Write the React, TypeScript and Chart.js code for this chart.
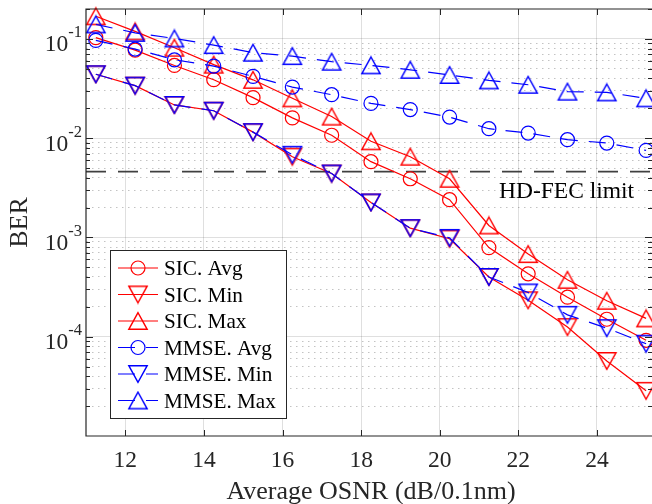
import React, { useEffect, useRef } from 'react';
import { Chart, registerables } from 'chart.js';

Chart.register(...registerables);

// ---- data ----
const osnr = [11.25, 12.25, 13.25, 14.25, 15.25, 16.25, 17.25, 18.25, 19.25, 20.25, 21.25, 22.25, 23.25, 24.25, 25.25];
const sicAvg = [0.103, 0.077, 0.054, 0.0388, 0.0256, 0.016, 0.0107, 0.0058, 0.0039, 0.0024, 0.00079, 0.00043, 0.00025, 0.00015, 0.000092];
const sicMin = [0.044, 0.0338, 0.0216, 0.0189, 0.0115, 0.0065, 0.0044, 0.00225, 0.00124, 0.00097, 0.0004, 0.000233, 0.000125, 0.000057, 0.0000285];
const sicMax = [0.169, 0.119, 0.0815, 0.055, 0.0387, 0.0252, 0.0165, 0.0093, 0.0065, 0.0039, 0.00132, 0.00068, 0.000374, 0.00023, 0.000153];
const mmseAvg = [0.0966, 0.079, 0.0616, 0.0532, 0.0419, 0.0327, 0.0274, 0.0224, 0.0194, 0.0163, 0.01245, 0.01125, 0.00966, 0.00893, 0.00753];
const mmseMin = [0.044, 0.0338, 0.0216, 0.0189, 0.0115, 0.0068, 0.0044, 0.00225, 0.00124, 0.00099, 0.0004, 0.000279, 0.000166, 0.000122, 0.000085];
const mmseMax = [0.14, 0.115, 0.101, 0.0866, 0.0726, 0.0671, 0.0589, 0.0541, 0.0488, 0.0433, 0.0382, 0.0345, 0.0294, 0.0289, 0.0252];

const seriesNames = ['SIC. Avg', 'SIC. Min', 'SIC. Max', 'MMSE. Avg', 'MMSE. Min', 'MMSE. Max'];
const seriesValues = [sicAvg, sicMin, sicMax, mmseAvg, mmseMin, mmseMax];
const seriesMarkers = ['circle', 'down', 'up', 'circle', 'down', 'up'];
const seriesColors = ['#ff0000', '#ff0000', '#ff0000', '#0000ff', '#0000ff', '#0000ff'];
const seriesDashed = [false, false, false, true, true, true];

const xTicks = [12, 14, 16, 18, 20, 22, 24];
const yTickExponents = [-1, -2, -3, -4];
const xRange = [11, 25.4];
const yRange = [1e-5, 0.2];
const hdFecLimit = 4.6e-3;
const hdFecLabel = 'HD-FEC limit';
const xTitle = 'Average OSNR (dB/0.1nm)';
const yTitle = 'BER';

const SERIF = '"Liberation Serif", "Times New Roman", serif';
const AXIS = '#262626';
const DASH = [17, 11];
const CIRCLE_R = 7;
const TRI_W = 18.4;
const TRI_H = 16.6;

// triangle marker image, centred on its bounding box (MATLAB style)
function makeTriangle(color: string, down: boolean): HTMLCanvasElement {
  const c = document.createElement('canvas');
  c.width = 22;
  c.height = 20;
  const g = c.getContext('2d') as CanvasRenderingContext2D;
  const cx = 11, cy = 10;
  const hw = TRI_W / 2, hh = TRI_H / 2;
  g.strokeStyle = color;
  g.lineWidth = 1.4;
  g.lineJoin = 'miter';
  g.beginPath();
  if (down) {
    g.moveTo(cx, cy + hh);
    g.lineTo(cx - hw, cy - hh);
    g.lineTo(cx + hw, cy - hh);
  } else {
    g.moveTo(cx, cy - hh);
    g.lineTo(cx - hw, cy + hh);
    g.lineTo(cx + hw, cy + hh);
  }
  g.closePath();
  g.stroke();
  return c;
}

const decorPlugin = {
  id: 'decor',
  afterDraw(chart: any) {
    const ctx: CanvasRenderingContext2D = chart.ctx;
    const { left, right, top, bottom } = chart.chartArea;
    const xs = chart.scales.x;
    const ys = chart.scales.y;
    const markerImgs: any[] = chart.options.plugins.decor.markers;
    ctx.save();

    // axes box (left, top, bottom)
    ctx.strokeStyle = AXIS;
    ctx.lineWidth = 1.2;
    ctx.setLineDash([]);
    ctx.beginPath();
    ctx.moveTo(right + 2, top);
    ctx.lineTo(left, top);
    ctx.lineTo(left, bottom);
    ctx.lineTo(right + 2, bottom);
    ctx.stroke();

    // inward tick marks
    ctx.lineWidth = 1;
    ctx.beginPath();
    xTicks.forEach((v) => {
      const px = Math.round(xs.getPixelForValue(v)) + 0.5;
      ctx.moveTo(px, bottom);
      ctx.lineTo(px, bottom - 6);
      ctx.moveTo(px, top);
      ctx.lineTo(px, top + 6);
    });
    for (let e = -5; e <= -1; e++) {
      for (let m = 1; m <= 9; m++) {
        const v = m * Math.pow(10, e);
        if (v > yRange[1] || v <= yRange[0]) continue;
        const py = Math.round(ys.getPixelForValue(v)) + 0.5;
        const len = m === 1 ? 7 : 4;
        ctx.moveTo(left, py);
        ctx.lineTo(left + len, py);
        ctx.moveTo(right, py);
        ctx.lineTo(right - len, py);
      }
    }
    ctx.stroke();

    // x tick labels
    ctx.fillStyle = AXIS;
    ctx.font = `23.5px ${SERIF}`;
    ctx.textAlign = 'center';
    ctx.textBaseline = 'alphabetic';
    xTicks.forEach((v) => {
      ctx.fillText(String(v), xs.getPixelForValue(v), 466.5);
    });

    // y tick labels 10^e
    yTickExponents.forEach((e) => {
      const py = ys.getPixelForValue(Math.pow(10, e));
      ctx.textAlign = 'right';
      ctx.font = `16.5px ${SERIF}`;
      const sup = String(e);
      const supW = ctx.measureText(sup).width;
      ctx.fillText(sup, 82, py - 1.5);
      ctx.font = `23.5px ${SERIF}`;
      ctx.fillText('10', 82 - supW, py + 12.5);
    });

    // axis titles
    ctx.font = `26px ${SERIF}`;
    ctx.textAlign = 'center';
    ctx.fillText(xTitle, 371, 499);
    ctx.save();
    ctx.translate(26.7, (top + bottom) / 2);
    ctx.rotate(-Math.PI / 2);
    ctx.fillText(yTitle, 0, 0);
    ctx.restore();

    // HD-FEC label
    ctx.fillStyle = '#000';
    ctx.font = `23.5px ${SERIF}`;
    ctx.textAlign = 'left';
    ctx.fillText(hdFecLabel, 499, 198);

    // legend
    const bx = 110.5, by = 250.5, bw = 176, bh = 168;
    ctx.fillStyle = '#ffffff';
    ctx.fillRect(bx, by, bw, bh);
    ctx.strokeStyle = AXIS;
    ctx.lineWidth = 1;
    ctx.strokeRect(bx, by, bw, bh);
    ctx.font = `21.2px ${SERIF}`;
    seriesNames.forEach((name, i) => {
      const cy = 268 + i * 26.5;
      ctx.strokeStyle = seriesColors[i];
      ctx.lineWidth = 1.2;
      ctx.setLineDash(seriesDashed[i] ? DASH : []);
      ctx.beginPath();
      ctx.moveTo(118, cy);
      ctx.lineTo(158, cy);
      ctx.stroke();
      ctx.setLineDash([]);
      const mk = markerImgs[i];
      if (mk === 'circle') {
        ctx.beginPath();
        ctx.arc(138, cy, CIRCLE_R, 0, Math.PI * 2);
        ctx.stroke();
      } else {
        ctx.drawImage(mk, 138 - mk.width / 2, cy - mk.height / 2);
      }
      ctx.fillStyle = '#000';
      ctx.textAlign = 'left';
      ctx.fillText(name, 164, cy + 7);
    });
    ctx.restore();
  },
};

export default function App() {
  const canvasRef = useRef<HTMLCanvasElement | null>(null);

  useEffect(() => {
    const canvas = canvasRef.current;
    if (!canvas) return;

    const markerStyles: any[] = seriesMarkers.map((m, i) =>
      m === 'circle' ? 'circle' : makeTriangle(seriesColors[i], m === 'down')
    );

    const datasets: any[] = seriesNames.map((name, i) => ({
      label: name,
      data: osnr.map((x, k) => ({ x, y: seriesValues[i][k] })),
      borderColor: seriesColors[i],
      backgroundColor: 'rgba(0,0,0,0)',
      borderWidth: 1.2,
      borderDash: seriesDashed[i] ? DASH : [],
      pointStyle: markerStyles[i],
      pointRadius: CIRCLE_R,
      pointBorderWidth: 1.2,
      pointBorderColor: seriesColors[i],
      pointBackgroundColor: 'rgba(0,0,0,0)',
      pointHoverRadius: CIRCLE_R,
      tension: 0,
      clip: false,
      order: 6 - i,
    }));
    datasets.push({
      label: hdFecLabel,
      data: [
        { x: xRange[0], y: hdFecLimit },
        { x: xRange[1], y: hdFecLimit },
      ],
      borderColor: '#404040',
      borderWidth: 1.6,
      borderDash: [20, 12],
      pointRadius: 0,
      pointHoverRadius: 0,
      clip: false,
      order: 10,
    });

    const chart = new Chart(canvas, {
      type: 'line',
      data: { datasets },
      options: {
        animation: false,
        responsive: false,
        devicePixelRatio: 1,
        events: [],
        layout: { autoPadding: false, padding: { left: 0, top: 9, right: 0, bottom: 0 } },
        plugins: {
          legend: { display: false },
          tooltip: { enabled: false },
          title: { display: false },
          decor: { markers: markerStyles },
        },
        scales: {
          x: {
            type: 'linear',
            min: xRange[0],
            max: xRange[1],
            afterBuildTicks: (s: any) => {
              s.ticks = xTicks.map((v) => ({ value: v }));
            },
            afterFit: (s: any) => {
              s.height = 68;
            },
            ticks: { display: false },
            grid: { color: 'rgba(38,38,38,0.15)', lineWidth: 1, drawTicks: false },
            border: { display: false },
          },
          y: {
            type: 'logarithmic',
            min: yRange[0],
            max: yRange[1],
            afterBuildTicks: (s: any) => {
              const t: any[] = [];
              for (let e = -5; e <= -1; e++) {
                for (let m = 1; m <= 9; m++) {
                  const v = m * Math.pow(10, e);
                  if (v <= yRange[0] || v >= yRange[1]) continue;
                  t.push({ value: v, major: m === 1 });
                }
              }
              s.ticks = t;
            },
            afterFit: (s: any) => {
              s.width = 86;
            },
            ticks: { display: false },
            grid: {
              color: (c: any) => (c.tick && !c.tick.major ? 'rgba(38,38,38,0.28)' : 'rgba(38,38,38,0.15)'),
              lineWidth: 1,
              drawTicks: false,
            },
            border: {
              display: false,
              dash: (c: any) => (c.tick && !c.tick.major ? [1.5, 4.5] : []),
            },
          },
        },
      },
      plugins: [decorPlugin],
    } as any);

    return () => {
      chart.destroy();
    };
  }, []);

  return (
    <div style={{ position: 'absolute', left: 0, top: 0, width: 652, height: 504, background: '#fff' }}>
      <canvas ref={canvasRef} width={652} height={504} style={{ display: 'block' }} />
    </div>
  );
}
